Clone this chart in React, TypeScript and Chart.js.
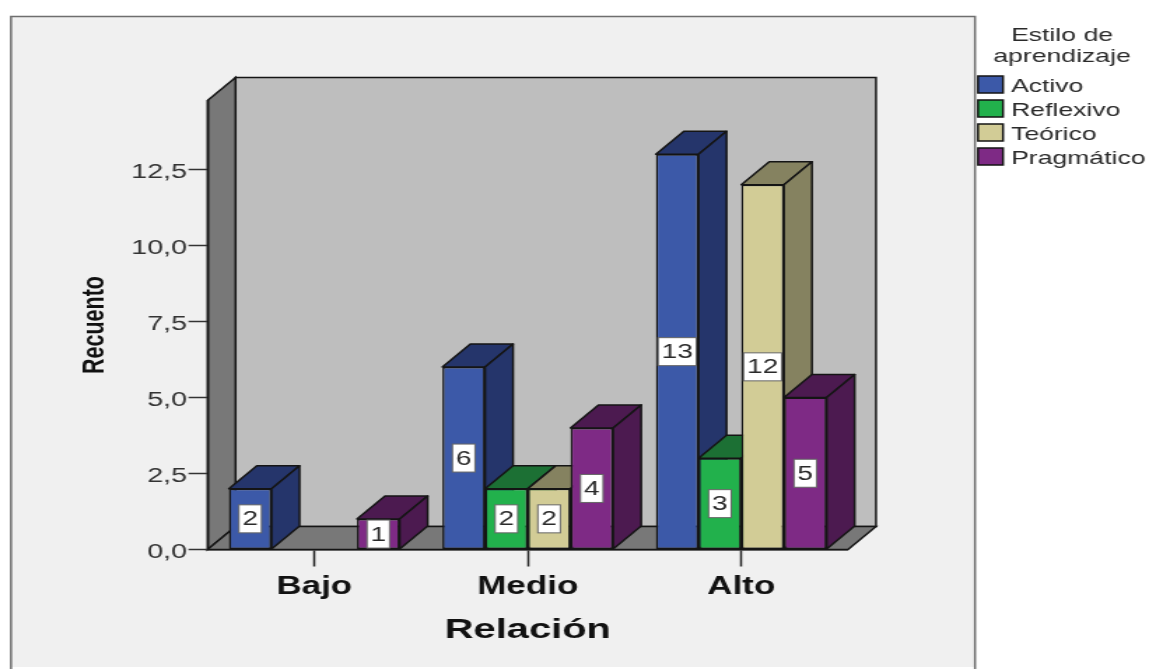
import React, { useEffect, useRef } from "react";
import { Chart, registerables } from "chart.js";

Chart.register(...registerables);

const categories = ["Bajo", "Medio", "Alto"];
const seriesNames = ["Activo", "Reflexivo", "Teórico", "Pragmático"];
const activo = [2, 6, 13];
const reflexivo = [null, 2, 3];
const teorico = [null, 2, 12];
const pragmatico = [1, 4, 5];
const yTicksMax = 14.77;
const legendTitle = ["Estilo de", "aprendizaje"];
const frontColors = ["#3c59a8", "#22b14c", "#d2cc96", "#7e2a85"];
const sideColors = ["#25356b", "#1c7034", "#858260", "#4c1a50"];
const topColors = ["#25356b", "#1c7034", "#858260", "#4c1a50"];

const LOGICAL_W = 821;
const H = 669;
const SX = 1149 / LOGICAL_W; // the reference is stretched horizontally
const X = (px: number) => px / SX;
const DX = X(28);
const DY = -23;
const LINE = "#151515";
const FONT = '"Liberation Sans", Arial, sans-serif';
const AXIS_BOTTOM = 549.5;
const LEFT_PAD = 55;

function poly(ctx: CanvasRenderingContext2D, pts: number[][], fill: string, stroke = LINE, lw = 1.5) {
  ctx.beginPath();
  pts.forEach((p, i) => (i ? ctx.lineTo(p[0], p[1]) : ctx.moveTo(p[0], p[1])));
  ctx.closePath();
  ctx.fillStyle = fill;
  ctx.fill();
  ctx.lineWidth = lw;
  ctx.strokeStyle = stroke;
  ctx.stroke();
}

const frame3d = {
  id: "frame3d",
  beforeDraw(chart: any) {
    const { ctx, chartArea: a } = chart;
    ctx.save();
    ctx.fillStyle = "#ffffff";
    ctx.fillRect(0, 0, LOGICAL_W, H);
    // outer panel
    ctx.fillStyle = "#f0f0f0";
    ctx.fillRect(X(11), 16, X(964), 651);
    ctx.strokeStyle = "#6e6e6e";
    ctx.lineWidth = 1.5;
    ctx.beginPath();
    ctx.moveTo(X(11), H);
    ctx.lineTo(X(11), 16.5);
    ctx.lineTo(X(975), 16.5);
    ctx.lineTo(X(975), H);
    ctx.stroke();
    // walls
    const l = a.left, r = a.right, t = a.top, b = a.bottom;
    poly(ctx, [[l + DX, t + DY], [r + DX, t + DY], [r + DX, b + DY], [l + DX, b + DY]], "#bebebe");
    poly(ctx, [[l, t], [l + DX, t + DY], [l + DX, b + DY], [l, b]], "#787878");
    poly(ctx, [[l, b], [l + DX, b + DY], [r + DX, b + DY], [r, b]], "#787878");
    ctx.restore();
  },
  beforeDatasetsDraw(chart: any) {
    const { ctx } = chart;
    ctx.save();
    ctx.lineJoin = "round";
    categories.forEach((_, c) => {
      chart.data.datasets.forEach((ds: any, d: number) => {
        if (ds.data[c] == null) return;
        const el = chart.getDatasetMeta(d).data[c];
        const x0 = el.x - el.width / 2;
        const x1 = el.x + el.width / 2;
        const y = el.y;
        const b = el.base;
        poly(ctx, [[x0, y], [x0 + DX, y + DY], [x1 + DX, y + DY], [x1, y]], topColors[d]);
        poly(ctx, [[x1, y], [x1 + DX, y + DY], [x1 + DX, b + DY], [x1, b]], sideColors[d]);
      });
    });
    ctx.restore();
  },
  afterDatasetsDraw(chart: any) {
    const { ctx } = chart;
    ctx.save();
    ctx.font = `20px ${FONT}`;
    ctx.textAlign = "center";
    ctx.textBaseline = "middle";
    chart.data.datasets.forEach((ds: any, d: number) => {
      ds.data.forEach((v: number | null, c: number) => {
        if (v == null) return;
        const el = chart.getDatasetMeta(d).data[c];
        const cy = (el.y + el.base) / 2;
        const w = ctx.measureText(String(v)).width + 5;
        const h = 28;
        ctx.fillStyle = "#ffffff";
        ctx.strokeStyle = "#666666";
        ctx.lineWidth = 1;
        ctx.fillRect(el.x - w / 2, cy - h / 2, w, h);
        ctx.strokeRect(el.x - w / 2, cy - h / 2, w, h);
        ctx.fillStyle = "#2a2a2a";
        ctx.fillText(String(v), el.x, cy + 1);
      });
    });
    ctx.restore();
  },
  afterDraw(chart: any) {
    const { ctx } = chart;
    ctx.save();
    ctx.fillStyle = "#2a2a2a";
    ctx.font = `19px ${FONT}`;
    ctx.textAlign = "center";
    ctx.textBaseline = "middle";
    legendTitle.forEach((s, i) => ctx.fillText(s, X(1062), 36 + i * 20.5));
    ctx.textAlign = "left";
    chart.data.datasets.forEach((ds: any, d: number) => {
      const top = 76 + d * 24;
      ctx.fillStyle = frontColors[d];
      ctx.strokeStyle = LINE;
      ctx.lineWidth = 1.5;
      ctx.fillRect(X(978), top, X(25), 17);
      ctx.strokeRect(X(978), top, X(25), 17);
      ctx.fillStyle = "#2a2a2a";
      ctx.fillText(ds.label, X(1011), top + 11);
    });
    ctx.restore();
  },
};

export default function App() {
  const ref = useRef<HTMLCanvasElement>(null);
  useEffect(() => {
    const values = [activo, reflexivo, teorico, pragmatico];
    document.body.style.margin = "0";
    document.body.style.background = "#ffffff";
    const chart = new Chart(ref.current!, {
      type: "bar",
      data: {
        labels: categories,
        datasets: seriesNames.map((label, i) => ({
          label,
          data: values[i],
          backgroundColor: frontColors[i],
          borderColor: LINE,
          borderWidth: 1.5,
          borderSkipped: false,
          categoryPercentage: 0.8,
          barPercentage: 1,
        })),
      } as any,
      plugins: [frame3d],
      options: {
        responsive: false,
        animation: false,
        devicePixelRatio: 1,
        layout: {
          padding: { left: LEFT_PAD, top: 100.5, right: LOGICAL_W - X(848), bottom: 0 },
        },
        plugins: { legend: { display: false }, tooltip: { enabled: false } },
        scales: {
          x: {
            afterFit(s: any) {
              s.height = H - AXIS_BOTTOM;
            },
            grid: { offset: false, drawOnChartArea: false, tickLength: 17, tickColor: "#222", tickWidth: 1.5 },
            border: { color: LINE, width: 1.5 },
            ticks: {
              maxRotation: 0,
              padding: 6,
              color: "#111",
              font: { family: FONT, size: 25, weight: "bold" },
            },
            title: {
              display: true,
              text: "Relación",
              color: "#111",
              padding: { top: 0, bottom: 22 },
              font: { family: FONT, size: 28.5, weight: "bold" },
            },
          },
          y: {
            min: 0,
            max: yTicksMax,
            afterFit(s: any) {
              s.width = X(207.5) - LEFT_PAD;
              // the reference's tick labels sit slightly below their tick marks
              if (!s.__shifted) {
                s.__shifted = true;
                const orig = s._computeLabelItems.bind(s);
                s._computeLabelItems = (area: any) =>
                  orig(area).map((it: any) => ({ ...it, textOffset: it.textOffset + 2.5 }));
              }
            },
            grid: { drawOnChartArea: false, tickLength: X(19), tickColor: "#333", tickWidth: 1.5 },
            border: { color: LINE, width: 1.5 },
            ticks: {
              stepSize: 2.5,
              includeBounds: false,
              padding: 1,
              color: "#333",
              font: { family: FONT, size: 20.5 },
              callback: (v: any) => Number(v).toFixed(1).replace(".", ","),
            },
            title: {
              display: true,
              text: "Recuento",
              color: "#111",
              padding: { top: 0, bottom: 0 },
              font: { family: FONT, size: 21.5, weight: "bold" },
            },
          },
        },
      } as any,
    });
    return () => chart.destroy();
  }, []);
  return (
    <div style={{ position: "fixed", left: 0, top: 0, width: 1149, height: H, overflow: "hidden", background: "#fff" }}>
      <canvas
        ref={ref}
        width={LOGICAL_W}
        height={H}
        style={{ display: "block", transform: `scaleX(${SX})`, transformOrigin: "0 0" }}
      />
    </div>
  );
}
